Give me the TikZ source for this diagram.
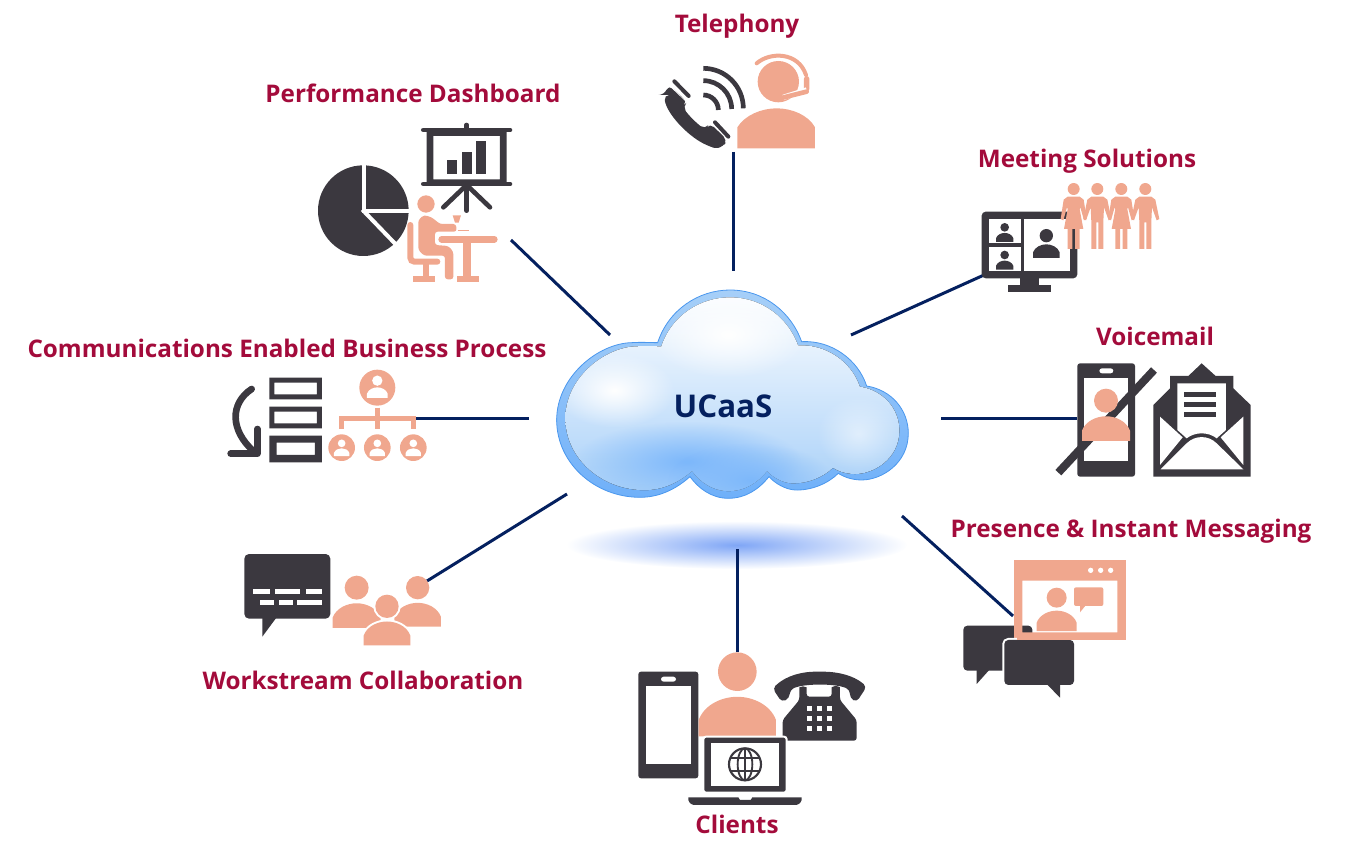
\documentclass[tikz,border=0pt]{standalone}
\usepackage{fontspec}
\setmainfont{Open Sans}
\usetikzlibrary{fadings}
\definecolor{icondark}{HTML}{3B383F}
\definecolor{iconpeach}{HTML}{F0A78E}
\definecolor{tagred}{HTML}{A30B3B}
\definecolor{linkblue}{HTML}{04205F}
\definecolor{ringtop}{HTML}{A6CFF8}
\definecolor{ringbottom}{HTML}{6FB0F9}
\definecolor{ringedge}{HTML}{4A97EE}
\definecolor{puffblue}{HTML}{7DB8FB}
\definecolor{groundblue}{HTML}{7FA6F6}
\tikzfading[name=puffout, inner color=transparent!0, outer color=transparent!100]
\tikzstyle{line} = [draw, color=linkblue, line width=2.25pt]
\tikzstyle{tag} = [text=tagred, font=\fontsize{18.2}{22}\selectfont\bfseries, inner sep=0pt, anchor=base]
\tikzstyle{darkpart} = [fill=icondark]
\tikzstyle{peachpart} = [fill=iconpeach]
\tikzstyle{hole} = [fill=white]
\newcommand{\bustat}[4]{\begin{scope}[shift={(#1,#2)}, scale=#3]
    \path[#4] (0,0) circle (1);
    \path[#4] (-2,3.35) -- (-2,2.5) .. controls (-1.7,1.7) and (-0.8,1.3) .. (0,1.3) .. controls (0.8,1.3) and (1.7,1.7) .. (2,2.5) -- (2,3.35) -- cycle;
\end{scope}}
\newcommand{\womanat}[2]{\begin{scope}[shift={(#1,#2)}]
    \path[peachpart] (0,0) circle (18);
    \path[peachpart] (-18,23) -- (18,23) -- (30,32) -- (39,90) -- (31,94) -- (20,55) -- (18,60) -- (29,120) -- (18,120) -- (18,180) -- (4,180) -- (4,120) -- (-4,120) -- (-4,180) -- (-18,180) -- (-18,120) -- (-29,120) -- (-18,60) -- (-20,55) -- (-31,94) -- (-39,90) -- (-30,32) -- cycle;
\end{scope}}
\newcommand{\manat}[2]{\begin{scope}[shift={(#1,#2)}]
    \path[peachpart] (0,0) circle (18);
    \path[peachpart] (-18,23) -- (18,23) -- (30,32) -- (42,90) -- (34,94) -- (20,55) -- (18,98) -- (18,180) -- (3,180) -- (3,100) -- (-3,100) -- (-3,180) -- (-18,180) -- (-18,98) -- (-20,55) -- (-34,94) -- (-42,90) -- (-30,32) -- cycle;
\end{scope}}
\def\cloudoutline{(338,188) .. controls (370,90) and (460,30) .. (555,30) .. controls (660,30) and (740,100) .. (770,185) .. controls (860,180) and (940,240) .. (965,318) .. controls (1040,330) and (1090,390) .. (1090,460) .. controls (1090,550) and (1010,600) .. (950,600) .. controls (920,600) and (895,590) .. (880,580) .. controls (850,610) and (800,632) .. (750,630) .. controls (720,628) and (690,610) .. (672,590) .. controls (640,630) and (600,655) .. (550,655) .. controls (500,655) and (460,625) .. (435,590) .. controls (390,630) and (340,652) .. (285,652) .. controls (150,652) and (35,550) .. (35,420) .. controls (35,290) and (160,190) .. (260,188) .. controls (290,186) and (320,188) .. (338,188) -- cycle}
\begin{document}
\begin{tikzpicture}[x=0.75pt, y=-0.75pt]
        \useasboundingbox (0,0) rectangle (1355,855);

        % cloud
        \fill[groundblue, path fading=puffout] (737,545) ellipse (170 and 24);
        \begin{scope}[shift={(545,280)}, scale=.3333]
            \path[draw=ringedge, line width=.6pt, top color=ringtop, bottom color=ringbottom] \cloudoutline;
            \begin{scope}[shift={(555,345)}, xscale=.95, yscale=.93, shift={(-555,-345)}]
                \path[clip] \cloudoutline;
                \fill[top color=white, middle color=ringtop!35!white, bottom color=ringtop] (0,0) rectangle (1125,680);
                \fill[puffblue, path fading=puffout] (420,560) ellipse (360 and 130);
                \fill[puffblue, path fading=puffout] (620,620) ellipse (260 and 120);
                \fill[white, path fading=puffout] (550,150) ellipse (250 and 140);
                \fill[white, path fading=puffout] (190,330) ellipse (190 and 120);
                \fill[white, opacity=.5, path fading=puffout] (960,470) ellipse (130 and 120);
            \end{scope}
        \end{scope}
        \node[inner sep=0pt, text=linkblue, font=\fontsize{23.5}{28}\selectfont\bfseries] (ucaas) at (723,406) {UCaaS};

        % labels
        \node[tag] (telephony) at (737,33) {Telephony};
        \node[tag] (dashboard) at (413,103) {Performance Dashboard};
        \node[tag] (meeting) at (1087,168) {Meeting Solutions};
        \node[tag] (voicemail) at (1155,345) {Voicemail};
        \node[tag] (presence) at (1131,537) {Presence \& Instant Messaging};
        \node[tag] (clients) at (737,833) {Clients};
        \node[tag] (workstream) at (363,689) {Workstream Collaboration};
        \node[tag] (process) at (287,358) {Communications Enabled Business Process};

        % connectors
        \coordinate (telephonyicon) at (733,152);
        \coordinate (telephonyend) at (733,271);
        \coordinate (dashboardicon) at (511,240);
        \coordinate (dashboardend) at (610,335);
        \coordinate (meetingicon) at (984,275);
        \coordinate (meetingend) at (851,335);
        \coordinate (voicemailicon) at (1077,418);
        \coordinate (voicemailend) at (941,418);
        \coordinate (presenceicon) at (1013,616);
        \coordinate (presenceend) at (902,516);
        \coordinate (clientsicon) at (737,652);
        \coordinate (clientsend) at (737,549);
        \coordinate (workstreamicon) at (427,581);
        \coordinate (workstreamend) at (567,494);
        \coordinate (processicon) at (415,418);
        \coordinate (processend) at (529,418);
        \path[line] (telephonyicon) -- (telephonyend);
        \path[line] (dashboardicon) -- (dashboardend);
        \path[line] (meetingicon) -- (meetingend);
        \path[line] (voicemailicon) -- (voicemailend);
        \path[line] (presenceicon) -- (presenceend);
        \path[line] (clientsicon) -- (clientsend);
        \path[line] (workstreamicon) -- (workstreamend);
        \path[line] (processicon) -- (processend);

        % performance dashboard
        \begin{scope}[shift={(300,110)}, scale=.3333]
            \path[darkpart] (190,302) circle (136);
            \draw[white, line width=3pt] (191,160) -- (191,303) -- (335,303);
            \draw[white, line width=3pt] (187,299) -- (292,408);
            \draw[icondark, line width=3.5pt, line cap=round] (370,60) -- (630,60);
            \draw[icondark, line width=3.5pt, line cap=round] (370,222) -- (630,222);
            \draw[icondark, line width=3.5pt, line cap=round] (500,45) -- (500,60);
            \path[fill=icondark, even odd rule] (380,55) rectangle (620,225) (400,78) rectangle (600,208);
            \draw[icondark, line width=3.5pt, line cap=round] (500,225) -- (430,292);
            \draw[icondark, line width=3.5pt, line cap=round] (500,225) -- (570,292);
            \draw[icondark, line width=3.5pt, line cap=round] (500,225) -- (500,302);
            \path[darkpart] (442,150) rectangle (471,193);
            \path[darkpart] (485,125) rectangle (515,193);
            \path[darkpart] (528,93) rectangle (557,193);
            \path[peachpart] (378,282) circle (26);
            \path[peachpart, rounded corners=2pt] (372,315) -- (395,322) -- (420,342) -- (468,342) -- (470,365) -- (405,365) -- (405,405) -- (445,408) -- (460,425) -- (460,508) -- (435,508) -- (435,437) -- (372,437) -- (355,420) -- (355,330) -- cycle;
            \draw[iconpeach, line width=4.5pt, line cap=round, rounded corners=3pt] (331,345) -- (331,455) -- (412,455);
            \path[peachpart] (368,460) rectangle (387,497);
            \path[peachpart] (340,497) rectangle (405,517);
            \draw[iconpeach, line width=5pt, line cap=round] (425,388) -- (583,388);
            \path[peachpart] (490,390) rectangle (512,497);
            \path[peachpart] (472,497) rectangle (537,517);
            \path[peachpart] (458,316) -- (483,316) -- (476,338) -- (465,338) -- cycle;
            \draw[iconpeach, line width=1pt] (473,362) -- (507,362);
        \end{scope}

        % telephony
        \begin{scope}[shift={(650,40)}, scale=.3333]
            \path[darkpart, rounded corners=4pt] (42,165) -- (56,135) -- (112,185) -- (98,200) .. controls (115,225) and (140,250) .. (165,268) -- (180,250) -- (232,300) -- (220,320) .. controls (200,325) and (190,323) .. (175,318) .. controls (110,285) and (50,220) .. cycle;
            \draw[white, line width=.5pt] (62,140) -- (104,180);
            \draw[white, line width=.5pt] (185,247) -- (230,292);
            \draw[icondark, line width=3pt, line cap=round] (73,124) -- (116,168);
            \draw[icondark, line width=3pt, line cap=round] (195,247) -- (235,290);
            \draw[icondark, line width=3.5pt] (160,165) arc[start angle=-90, end angle=0, radius=45];
            \draw[icondark, line width=3.5pt] (160,122) arc[start angle=-90, end angle=0, radius=85];
            \draw[icondark, line width=3.5pt] (160,85) arc[start angle=-90, end angle=0, radius=120];
            \path[peachpart] (385,125) circle (62);
            \path[peachpart] (262,325) -- (262,262) .. controls (285,225) and (335,205) .. (380,205) .. controls (425,205) and (475,225) .. (495,262) -- (495,325) -- cycle;
            \draw[iconpeach, line width=3pt, line cap=round] (320,70) .. controls (360,35) and (445,35) .. (468,105);
            \path[peachpart, rounded corners=2pt] (462,108) rectangle (478,155);
            \draw[white, line width=4pt] (470,150) -- (400,172);
            \draw[iconpeach, line width=3.5pt, line cap=round] (470,155) -- (402,172);
        \end{scope}

        % meeting solutions
        \begin{scope}[shift={(970,170)}, scale=.3333]
            \path[darkpart, rounded corners=3pt] (35,125) rectangle (322,325);
            \path[darkpart] (150,325) rectangle (207,345);
            \path[darkpart] (113,345) rectangle (243,367);
            \path[hole] (57,147) rectangle (152,220);
            \path[hole] (57,230) rectangle (152,303);
            \path[hole] (163,147) rectangle (300,303);
            \bustat{104}{172}{13}{darkpart}
            \bustat{104}{255}{13}{darkpart}
            \bustat{229}{197}{20}{darkpart}
            \womanat{311}{57}
            \manat{382}{57}
            \womanat{454}{57}
            \manat{526}{57}
        \end{scope}

        % voicemail
        \begin{scope}[shift={(1040,350)}, scale=.3333]
            \path[darkpart, rounded corners=2pt] (112,40) rectangle (285,380);
            \path[hole] (133,85) rectangle (265,333);
            \path[hole, rounded corners=2pt] (178,55) rectangle (220,70);
            \draw[icondark, line width=6pt] (342,60) -- (55,368);
            \bustat{198}{152}{36}{peachpart}
            \path[darkpart] (485,40) -- (527,78) -- (580,78) -- (580,115) -- (632,165) -- (632,380) -- (340,380) -- (340,165) -- (390,115) -- (390,78) -- (445,78) -- cycle;
            \path[hole] (412,100) -- (558,100) -- (558,240) -- (530,265) .. controls (505,245) and (465,245) .. (440,265) -- (412,240) -- cycle;
            \path[darkpart] (432,125) rectangle (528,140);
            \path[darkpart] (432,156) rectangle (528,171);
            \path[darkpart] (432,187) rectangle (528,202);
            \path[hole] (360,200) -- (428,262) -- (360,345) -- cycle;
            \path[hole] (610,200) -- (542,262) -- (610,345) -- cycle;
            \path[hole] (362,358) -- (440,280) .. controls (465,255) and (505,255) .. (530,280) -- (610,358) -- cycle;
        \end{scope}

        % presence and instant messaging
        \begin{scope}[shift={(950,550)}, scale=.3333]
            \path[darkpart, rounded corners=3pt] (40,227) rectangle (247,362);
            \path[darkpart] (80,355) -- (80,402) -- (122,355) -- cycle;
            \path[fill=iconpeach, even odd rule] (192,30) rectangle (528,270) (217,92) rectangle (502,247);
            \fill[white] (422,61) circle (8);
            \fill[white] (452,61) circle (8);
            \fill[white] (482,61) circle (8);
            \bustat{320}{143}{30}{peachpart}
            \path[peachpart, rounded corners=1.5pt] (372,112) rectangle (460,168);
            \path[peachpart] (390,160) -- (390,187) -- (412,160) -- cycle;
            \path[draw=white, line width=3pt, darkpart, rounded corners=3pt] (163,270) rectangle (372,405);
            \path[darkpart, rounded corners=3pt] (163,270) rectangle (372,405);
            \path[darkpart] (288,400) -- (330,443) -- (330,400) -- cycle;
            \path[peachpart] (200,262) rectangle (528,270);
        \end{scope}

        % clients
        \begin{scope}[shift={(630,640)}, scale=.3333]
            \path[darkpart, rounded corners=2pt] (25,95) rectangle (205,415);
            \path[hole] (48,138) rectangle (183,372);
            \path[hole, rounded corners=2pt] (93,110) rectangle (138,125);
            \bustat{322}{95}{58}{peachpart}
            \path[darkpart, rounded corners=2pt] (458,302) -- (458,240) -- (508,180) -- (508,150) arc[start angle=180, end angle=360, radius=11] -- (530,170) -- (605,170) -- (605,150) arc[start angle=180, end angle=360, radius=12.5] -- (630,180) -- (680,240) -- (680,302) -- cycle;
            \path[darkpart, rounded corners=3pt] (428,145) .. controls (470,105) and (520,95) .. (568,95) .. controls (620,95) and (670,105) .. (710,140) -- (680,186) -- (660,175) -- (660,150) .. controls (620,130) and (520,130) .. (480,150) -- (478,175) -- (455,186) -- cycle;
            \foreach \keyx in {539,569,598} {
                \foreach \keyy in {206,236,265} {
                    \path[hole] (\keyx-8,\keyy-8) rectangle (\keyx+8,\keyy+8);
                }
            }
            \path[draw=white, line width=1.5pt, darkpart, rounded corners=2pt] (220,290) -- (470,290) -- (470,458) -- (220,458) -- cycle;
            \path[hole] (242,310) rectangle (448,437);
            \draw[icondark, line width=1.6pt] (345,373) circle (48);
            \draw[icondark, line width=1.4pt] (345,373) ellipse (22 and 48);
            \draw[icondark, line width=1.4pt] (345,325) -- (345,421);
            \draw[icondark, line width=1.4pt] (303,353) -- (387,353);
            \draw[icondark, line width=1.4pt] (303,393) -- (387,393);
            \path[darkpart] (175,472) -- (325,472) -- (330,480) -- (362,480) -- (367,472) -- (515,472) -- (515,480) .. controls (512,490) and (505,495) .. (495,495) -- (195,495) .. controls (185,495) and (178,490) .. (175,480) -- cycle;
        \end{scope}

        % workstream collaboration
        \begin{scope}[shift={(235,540)}, scale=.3333]
            \path[darkpart, rounded corners=3.5pt] (28,42) rectangle (286,236);
            \path[darkpart] (82,225) -- (82,290) -- (130,225) -- cycle;
            \path[hole] (55,147) rectangle (105,162);
            \path[hole] (120,147) rectangle (196,162);
            \path[hole] (214,147) rectangle (260,162);
            \path[hole] (74,179) rectangle (116,194);
            \path[hole] (131,179) rectangle (173,194);
            \path[hole] (187,179) rectangle (260,194);
            \bustat{365}{143}{36}{peachpart}
            \bustat{548}{143}{35}{peachpart}
            \bustat{456}{199}{35}{hole, draw=white, line width=3pt}
            \bustat{456}{199}{35}{peachpart}
        \end{scope}

        % communications enabled business process
        \begin{scope}[shift={(220,365)}, scale=.3333]
            \path[fill=icondark, even odd rule] (148,38) rectangle (306,103) (163,53) rectangle (291,88);
            \path[fill=icondark, even odd rule] (148,125) rectangle (306,190) (163,140) rectangle (291,175);
            \path[fill=icondark, even odd rule] (148,212) rectangle (306,292) (170,233) rectangle (285,270);
            \draw[icondark, line width=5pt, line cap=round] (95,72) .. controls (30,115) and (30,195) .. (100,258);
            \draw[icondark, line width=5pt, line cap=round, line join=round] (112,192) -- (112,266) -- (32,266);
            \path[peachpart] (472,68) circle (54);
            \draw[iconpeach, line width=3.5pt] (472,128) -- (472,192);
            \draw[iconpeach, line width=3.5pt] (365,192) -- (365,160) -- (580,160) -- (580,192);
            \path[peachpart] (365,248) circle (40);
            \path[peachpart] (472,248) circle (40);
            \path[peachpart] (580,248) circle (40);
            \bustat{472}{47}{15.5}{hole}
            \bustat{365}{235}{11.5}{hole}
            \bustat{472}{235}{11.5}{hole}
            \bustat{580}{235}{11.5}{hole}
        \end{scope}
    \end{tikzpicture}
\end{document}
